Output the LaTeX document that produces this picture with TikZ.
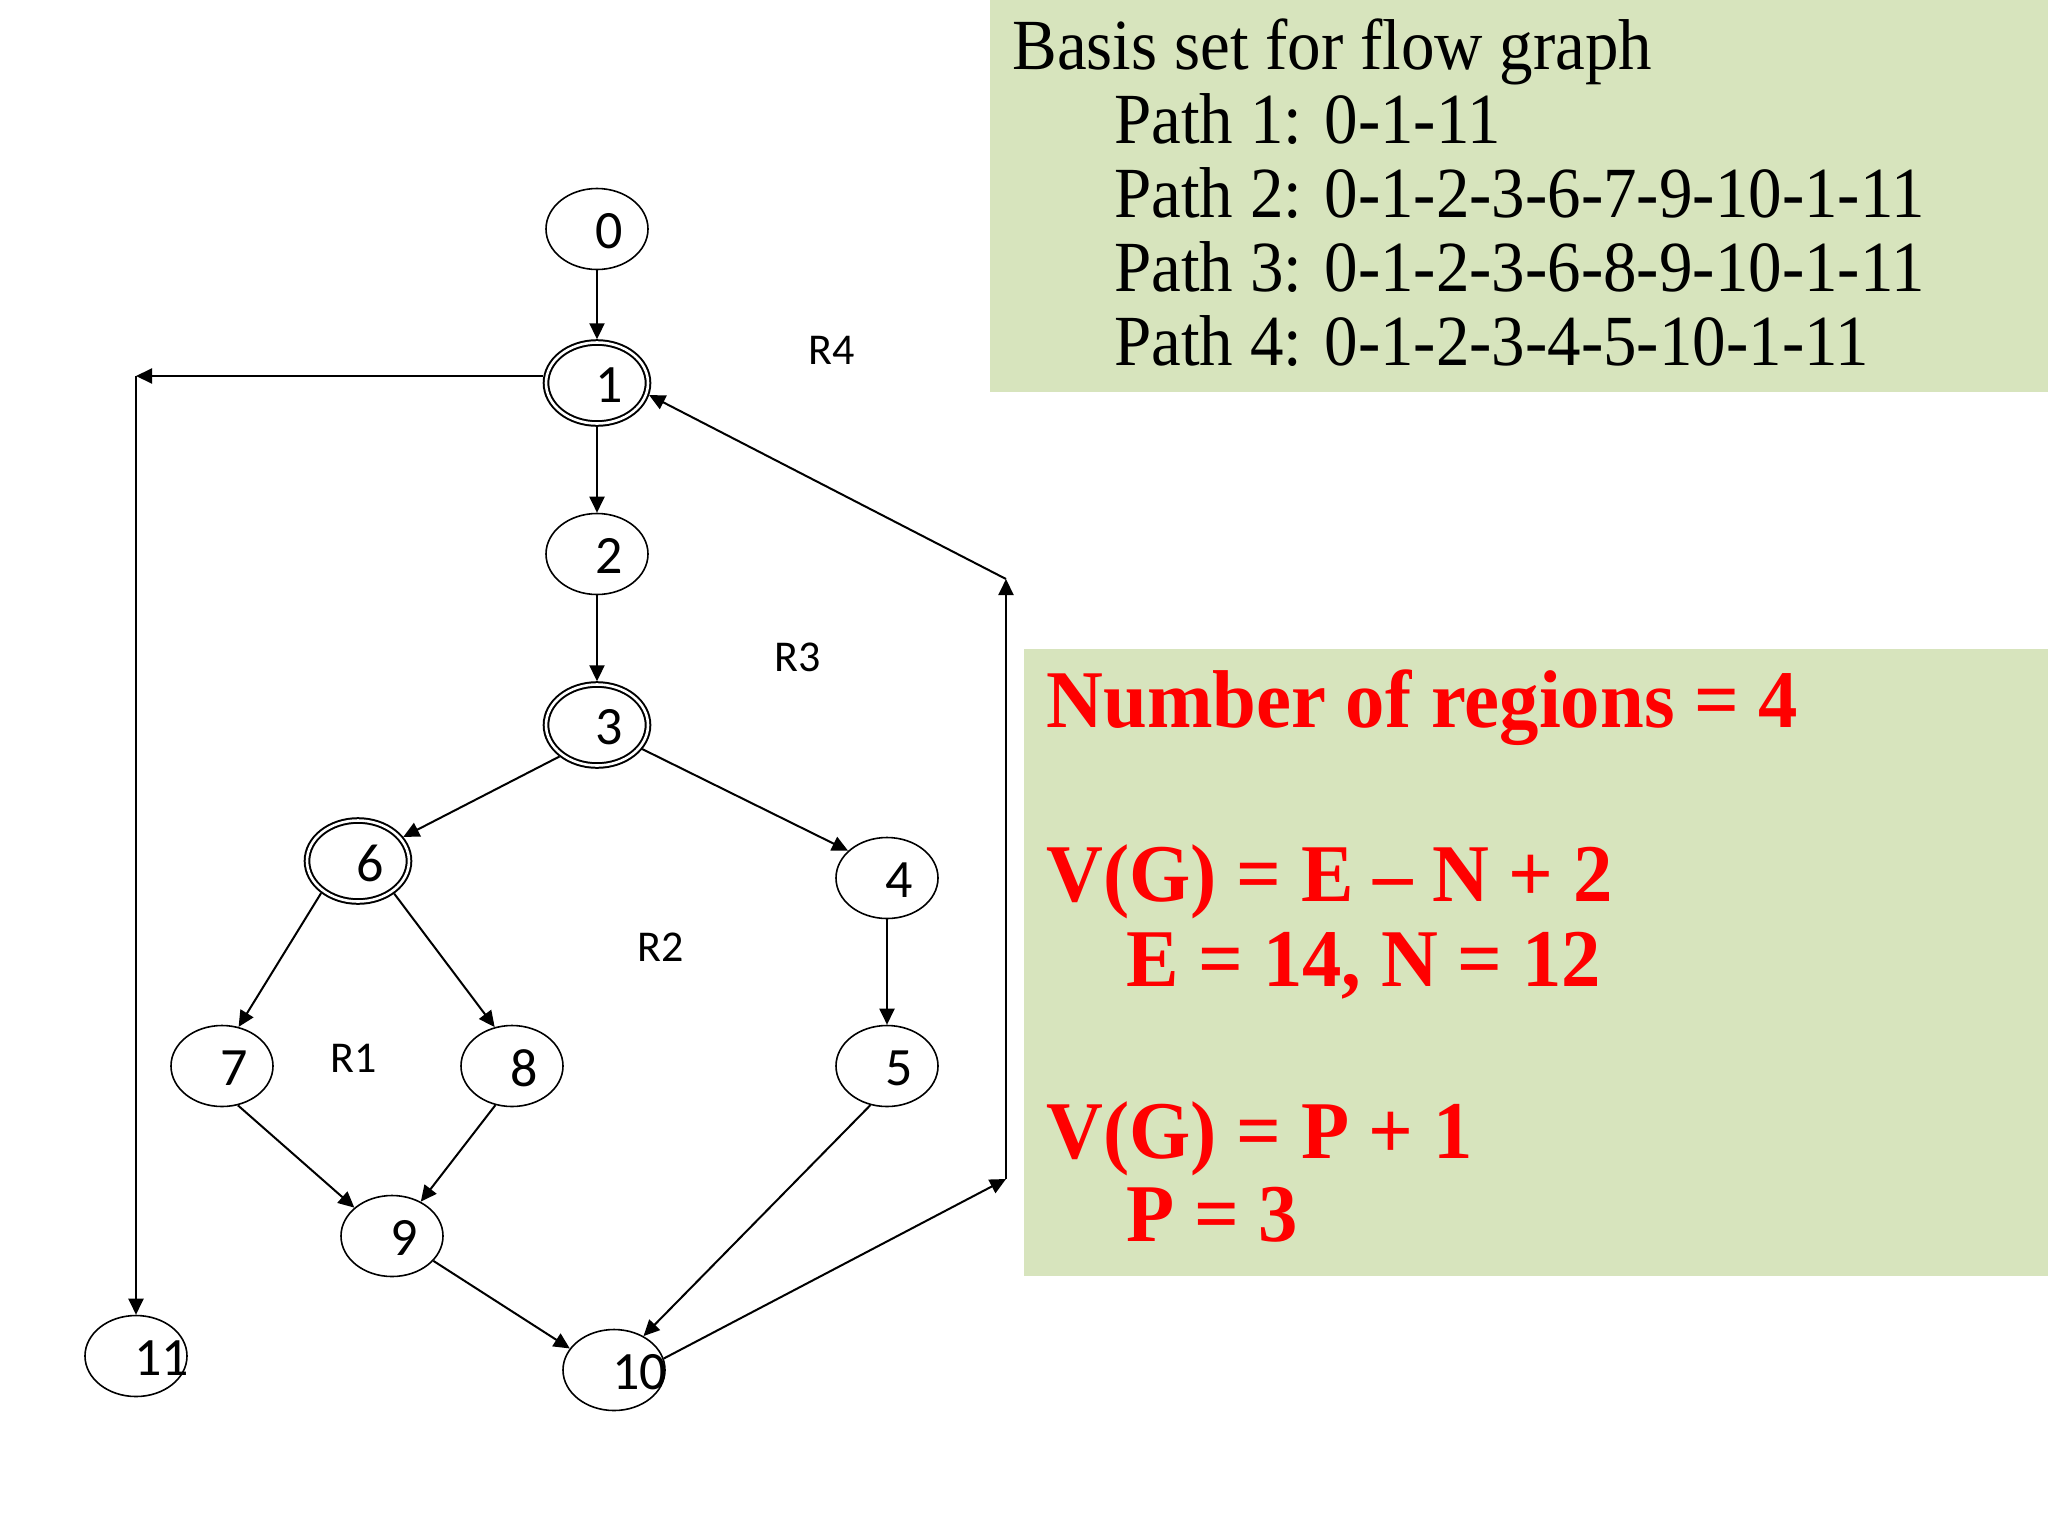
\documentclass[tikz,border=0pt]{standalone}
\usepackage{fontspec}
\setmainfont{Liberation Serif}
\newfontfamily\calib{Carlito}
\newfontfamily\tnr[FakeStretch=0.93]{Liberation Serif}
\newfontfamily\tnrb[FakeStretch=0.96]{Liberation Serif}
\usetikzlibrary{shapes.geometric, arrows.meta}
\definecolor{boxgreen}{HTML}{D7E4BD}
\definecolor{redtxt}{HTML}{FF0000}
\begin{document}
\begin{tikzpicture}[x=0.5pt,y=-0.5pt,
  vtx/.style={ellipse, draw, line width=0.8pt, minimum width=51pt, minimum height=40.5pt, inner sep=0pt, outer sep=0.4pt},
  dvtx/.style={vtx, line width=1pt, double, double distance=1.3pt, outer sep=1.6pt},
  num/.style={anchor=west, inner sep=0pt, font=\calib\fontsize{27}{27}\selectfont},
  reg/.style={inner sep=0pt, font=\calib\fontsize{22}{22}\selectfont},
  edge/.style={line width=1pt, -{Triangle[length=8pt,width=7.5pt]}},
  gbox/.style={fill=boxgreen, anchor=north west, inner sep=0pt, outer sep=0pt},
  btxt/.style={anchor=base west, inner sep=0pt, font=\tnr\fontsize{36}{37}\selectfont},
  rtxt/.style={anchor=base west, inner sep=0pt, text=redtxt, font=\tnrb\bfseries\fontsize{41}{42}\selectfont}
]
\fill[white] (0,0) rectangle (2048,1536);
\useasboundingbox (0,0) rectangle (2048,1536);

% green boxes
\node[gbox, minimum width=529pt, minimum height=196pt] (box1) at (990,0) {};
\node[gbox, minimum width=512pt, minimum height=313.5pt] (box2) at (1024,649) {};

% basis set text
\node[btxt] (b0) at (1012,69) {Basis set for flow graph};
\node[btxt] (b1) at (1114,143) {Path 1: 0-1-11};
\node[btxt] (b2) at (1114,217) {Path 2: 0-1-2-3-6-7-9-10-1-11};
\node[btxt] (b3) at (1114,291) {Path 3: 0-1-2-3-6-8-9-10-1-11};
\node[btxt] (b4) at (1114,365) {Path 4: 0-1-2-3-4-5-10-1-11};

% red text
\node[rtxt] (r0) at (1046,727) {Number of regions = 4};
\node[rtxt] (r1) at (1046,901) {V(G) = E – N + 2};
\node[rtxt] (r2) at (1126,986) {E = 14, N = 12};
\node[rtxt] (r3) at (1046,1158) {V(G) = P + 1};
\node[rtxt] (r4) at (1126,1241) {P = 3};

% vertices
\node[vtx]  (n0)  at (597,229)  {};
\node[dvtx] (n1)  at (597,383)  {};
\node[vtx]  (n2)  at (597,554)  {};
\node[dvtx] (n3)  at (597,725)  {};
\node[dvtx] (n6)  at (358,861)  {};
\node[vtx]  (n4)  at (887,878)  {};
\node[vtx]  (n7)  at (222,1066) {};
\node[vtx]  (n8)  at (512,1066) {};
\node[vtx]  (n5)  at (887,1066) {};
\node[vtx]  (n9)  at (392,1236) {};
\node[vtx]  (n10) at (614,1370) {};
\node[vtx]  (n11) at (136,1356) {};

% vertex labels
\node[num] (t0)  at (595,231)  {0};
\node[num] (t1)  at (595,385)  {1};
\node[num] (t2)  at (595,556)  {2};
\node[num] (t3)  at (595,727)  {3};
\node[num] (t6)  at (356,863)  {6};
\node[num] (t4)  at (885,880)  {4};
\node[num] (t7)  at (220,1068) {7};
\node[num] (t8)  at (510,1068) {8};
\node[num] (t5)  at (885,1068) {5};
\node[num] (t9)  at (390,1238) {9};
\node[num] (t10) at (612,1372) {10};
\node[num] (t11) at (134,1358) {11};

% region labels
\node[reg] (R4) at (832,350)  {R4};
\node[reg] (R3) at (798,657)  {R3};
\node[reg] (R2) at (661,947)  {R2};
\node[reg] (R1) at (354,1058) {R1};

% corners
\coordinate (c0) at (136,376);
\coordinate (c1) at (1006,1179);
\coordinate (c2) at (1006,579);

% edges
\draw[edge] (n0) -- (n1);
\draw[edge] (n1) -- (n2);
\draw[edge] (n2) -- (n3);
\draw[edge] (n1.west |- c0) -- (c0);
\draw[edge] (c0) -- (n11);
\draw[edge] (n3.220) -- (n6.28);
\draw[edge] (n3.332) -- (n4.145);
\draw[edge] (n6.221) -- (n7.67);
\draw[edge] (n6.318) -- (n8.114);
\draw[edge] (n4) -- (n5);
\draw[edge] (n7.292) -- (n9.143);
\draw[edge] (n8.247) -- (n9.50);
\draw[edge] (n9.329) -- (n10.154);
\draw[edge] (n5.247) -- (n10.49);
\draw[edge] (n10.13) -- (c1);
\draw[edge] (c1) -- (c2);
\draw[edge] (c2) -- (n1.347);
\end{tikzpicture}
\end{document}
